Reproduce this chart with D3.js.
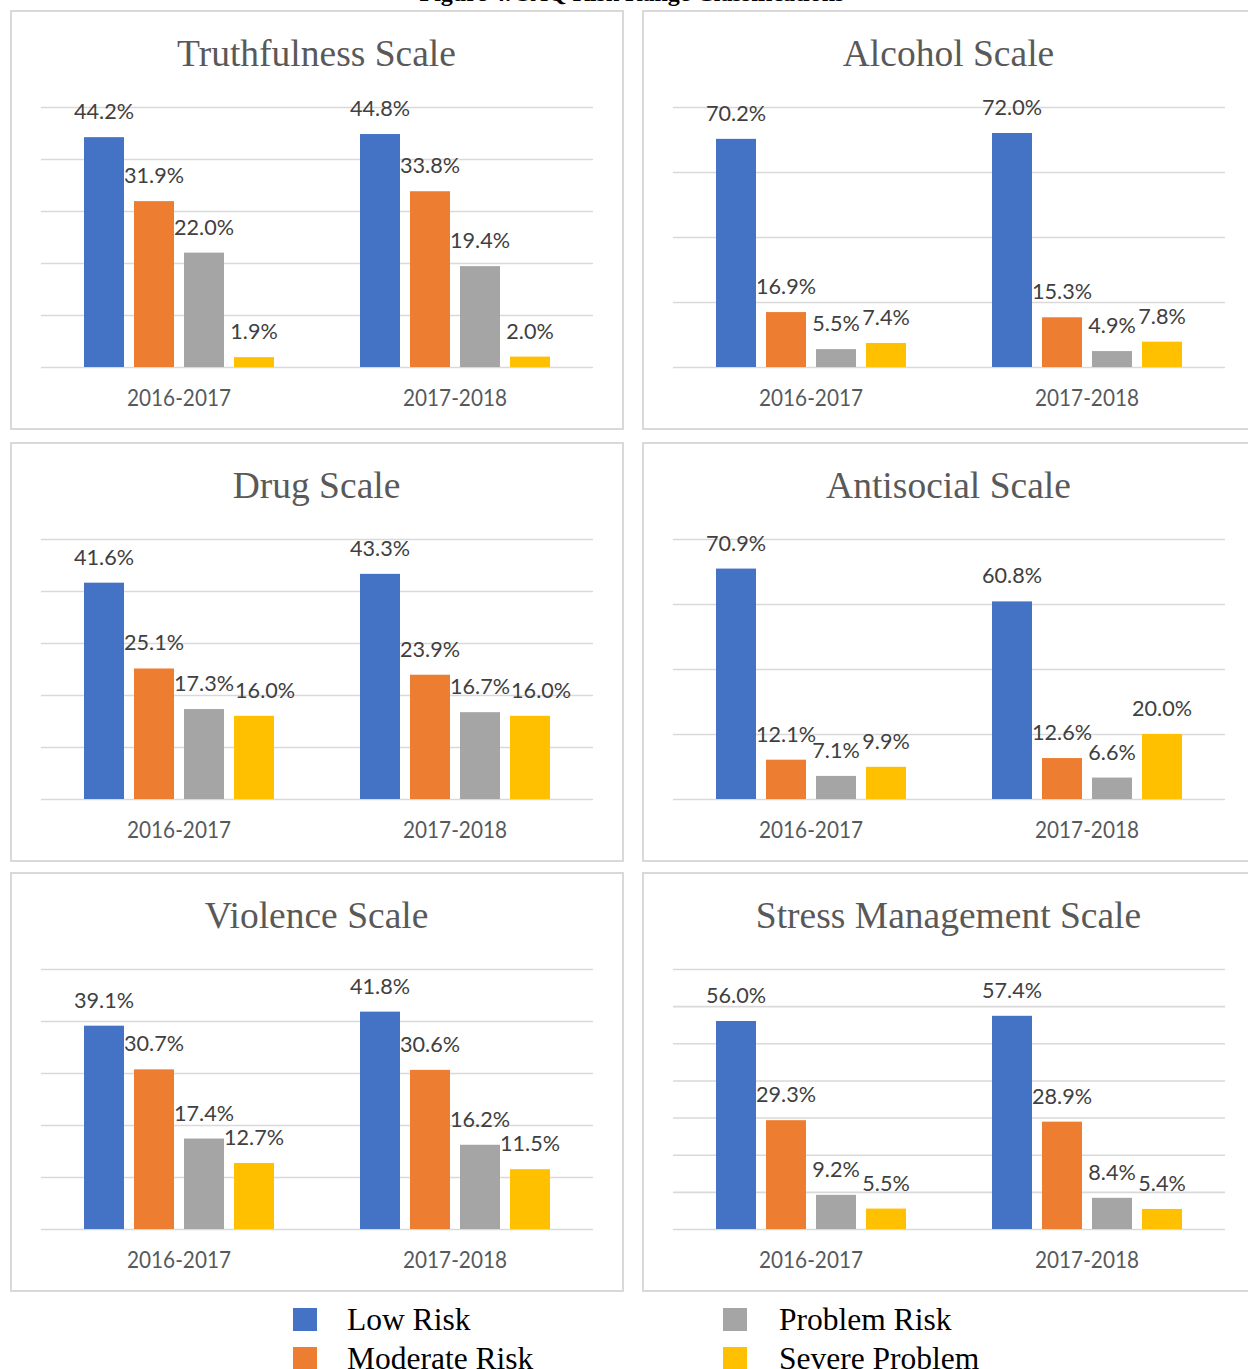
<!DOCTYPE html>
<html>
<head>
<meta charset="utf-8">
<script src="https://cdn.jsdelivr.net/npm/d3@7"></script>
<style>
  html, body { margin: 0; padding: 0; background: #fff; }
  svg { display: block; }
</style>
</head>
<body>
<svg id="chart" width="1248" height="1369"></svg>
<script>
// ---------- data ----------
const scaleNames = ["Truthfulness Scale", "Alcohol Scale", "Drug Scale", "Antisocial Scale", "Violence Scale", "Stress Management Scale"];
const years = ["2016-2017", "2017-2018"];
const seriesNames = ["Low Risk", "Moderate Risk", "Problem Risk", "Severe Problem"];
const lowRisk       = [[44.2, 44.8], [70.2, 72.0], [41.6, 43.3], [70.9, 60.8], [39.1, 41.8], [56.0, 57.4]];
const moderateRisk  = [[31.9, 33.8], [16.9, 15.3], [25.1, 23.9], [12.1, 12.6], [30.7, 30.6], [29.3, 28.9]];
const problemRisk   = [[22.0, 19.4], [5.5, 4.9], [17.3, 16.7], [7.1, 6.6], [17.4, 16.2], [9.2, 8.4]];
const severeProblem = [[1.9, 2.0], [7.4, 7.8], [16.0, 16.0], [9.9, 20.0], [12.7, 11.5], [5.5, 5.4]];
const axisMax  = [50, 80, 50, 80, 50, 70];
const tickStep = [10, 20, 10, 20, 10, 10];
const figureCaption = "Figure 4. SAQ Risk Range Classifications";

// ---------- styling ----------
const colors = ["#4472C4", "#ED7D31", "#A5A5A5", "#FFC000"];
const allSeries = [lowRisk, moderateRisk, problemRisk, severeProblem];
const LABEL_SX = 1.03;

const svg = d3.select("#chart");

// caption cut at the top of the page (as in the source)
svg.append("text")
  .attr("x", 632).attr("y", 1)
  .attr("text-anchor", "middle")
  .attr("font-family", "Liberation Serif, Times New Roman, serif")
  .attr("font-weight", "bold")
  .attr("font-size", 24)
  .attr("fill", "#000")
  .text(figureCaption);

const panelW = 612, panelH = 418;
const panelX = [11, 643];
const panelY = [11, 443, 873];
const plotL = 30, plotR = 582, plotT = 96, plotB = 356;

scaleNames.forEach((name, i) => {
  const px = panelX[i % 2], py = panelY[Math.floor(i / 2)];
  const g = svg.append("g").attr("transform", `translate(${px},${py})`);

  g.append("rect")
    .attr("x", 0).attr("y", 0).attr("width", panelW).attr("height", panelH)
    .attr("fill", "#fff").attr("stroke", "#D9D9D9").attr("stroke-width", 2);

  // title
  g.append("text")
    .attr("transform", `translate(${panelW / 2 - 0.5},55) scale(1.014,1)`)
    .attr("text-anchor", "middle")
    .attr("font-family", "Liberation Serif, Times New Roman, serif")
    .attr("font-size", 37)
    .attr("fill", "#595959")
    .text(name);

  const y = d3.scaleLinear().domain([0, axisMax[i]]).range([plotB, plotT]);
  const x0 = d3.scaleBand().domain(years).range([plotL, plotR]).padding(0);
  const x1 = d3.scaleBand().domain(seriesNames).range([0, x0.bandwidth()])
    .paddingInner(0.2).paddingOuter(0.86);

  // gridlines
  const grid = g.append("g")
    .attr("transform", `translate(${plotL},0)`)
    .call(d3.axisLeft(y).tickValues(d3.range(0, axisMax[i] + 0.001, tickStep[i]))
      .tickSize(-(plotR - plotL)).tickFormat(""));
  grid.select(".domain").remove();
  grid.selectAll(".tick line").attr("stroke", "#D9D9D9").attr("stroke-width", 1.6);

  // x axis labels
  const xa = g.append("g")
    .attr("transform", `translate(0,${plotB})`)
    .call(d3.axisBottom(x0).tickSize(0).tickPadding(0));
  xa.select(".domain").remove();
  xa.selectAll(".tick text").remove();
  xa.selectAll(".tick").append("text")
    .attr("transform", `translate(0,39) scale(0.865,1)`)
    .attr("text-anchor", "middle")
    .attr("font-family", "Lato, Open Sans, sans-serif")
    .attr("font-size", 24)
    .attr("fill", "#595959")
    .text(d => d);

  // bars + labels
  years.forEach((yr, yi) => {
    const grp = g.append("g").attr("transform", `translate(${x0(yr)},0)`);
    const placed = [];
    seriesNames.forEach((s, si) => {
      const v = allSeries[si][i][yi];
      grp.append("rect")
        .attr("x", x1(s)).attr("width", x1.bandwidth())
        .attr("y", y(v)).attr("height", y(0) - y(v))
        .attr("fill", colors[si]);
      const ty = y(v) - 18;
      let cx = x1(s) + x1.bandwidth() / 2;
      const t = grp.append("text")
        .attr("text-anchor", "middle")
        .attr("font-family", "Lato, Open Sans, sans-serif")
        .attr("font-size", 21)
        .attr("fill", "#404040")
        .text(v.toFixed(1) + "%");
      const w = t.node().getComputedTextLength() * LABEL_SX;
      // nudge right when colliding with the previous label (as the source chart does)
      placed.forEach(p => {
        if (Math.abs(p.y - ty) < 12 && cx - w / 2 < p.right) cx = p.right + w / 2 + 1;
      });
      placed.push({ y: ty, right: cx + w / 2 });
      t.attr("transform", `translate(${cx},${ty}) scale(${LABEL_SX},1)`);
    });
  });
});

// legend
const legendPos = [[293, 1308], [293, 1347], [723, 1308], [723, 1347]];
seriesNames.forEach((s, si) => {
  const [lx, ly] = legendPos[si];
  svg.append("rect").attr("x", lx).attr("y", ly).attr("width", 24).attr("height", 23).attr("fill", colors[si]);
  svg.append("text")
    .attr("x", lx + (si < 2 ? 54 : 56)).attr("y", ly + 22)
    .attr("font-family", "Liberation Serif, Times New Roman, serif")
    .attr("font-size", 31.5)
    .attr("fill", "#000")
    .text(s);
});
</script>
</body>
</html>
